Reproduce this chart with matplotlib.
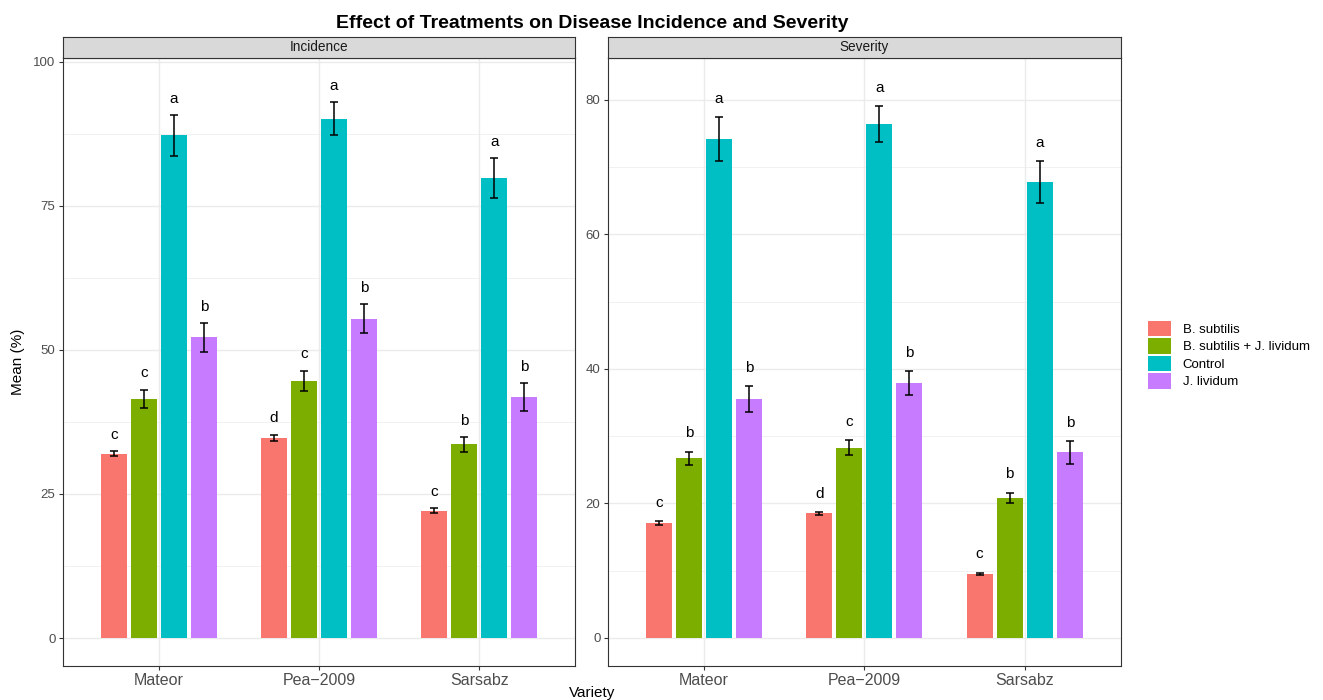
import matplotlib
matplotlib.use("Agg")
import matplotlib.pyplot as plt
import matplotlib.patches as mpatches
from matplotlib.ticker import MultipleLocator
import numpy as np

plt.rcParams["font.family"] = ["Liberation Sans", "DejaVu Sans"]

# ---- data -------------------------------------------------------------
varieties = ["Mateor", "Pea\u22122009", "Sarsabz"]
treatments = ["B. subtilis", "B. subtilis + J. lividum", "Control", "J. lividum"]
colors = ["#F8766D", "#7CAE00", "#00BFC4", "#C77CFF"]

incidence_mean = {
    "B. subtilis": [32.0, 34.7, 22.1],
    "B. subtilis + J. lividum": [41.5, 44.6, 33.6],
    "Control": [87.2, 90.1, 79.8],
    "J. lividum": [52.2, 55.4, 41.8],
}
incidence_se = {
    "B. subtilis": [0.5, 0.6, 0.4],
    "B. subtilis + J. lividum": [1.6, 1.8, 1.3],
    "Control": [3.5, 2.8, 3.5],
    "J. lividum": [2.5, 2.5, 2.5],
}
incidence_letters = {
    "B. subtilis": ["c", "d", "c"],
    "B. subtilis + J. lividum": ["c", "c", "b"],
    "Control": ["a", "a", "a"],
    "J. lividum": ["b", "b", "b"],
}

severity_mean = {
    "B. subtilis": [17.1, 18.5, 9.5],
    "B. subtilis + J. lividum": [26.7, 28.3, 20.8],
    "Control": [74.2, 76.4, 67.8],
    "J. lividum": [35.5, 37.9, 27.6],
}
severity_se = {
    "B. subtilis": [0.3, 0.25, 0.2],
    "B. subtilis + J. lividum": [1.0, 1.1, 0.8],
    "Control": [3.3, 2.7, 3.1],
    "J. lividum": [1.9, 1.8, 1.7],
}
severity_letters = {
    "B. subtilis": ["c", "d", "c"],
    "B. subtilis + J. lividum": ["b", "c", "b"],
    "Control": ["a", "a", "a"],
    "J. lividum": ["b", "b", "b"],
}

# ---- figure -----------------------------------------------------------
W, H = 1323, 700
fig = plt.figure(figsize=(W / 100, H / 100), dpi=100)

GRID = "#EBEBEB"
DARK = "#333333"
TICKTXT = "#4D4D4D"


def frac_box(x0, y0, x1, y1):
    """pixel box (top-left origin) -> figure-fraction rect"""
    return [x0 / W, 1 - y1 / H, (x1 - x0) / W, (y1 - y0) / H]


panel_top, panel_bot = 57.5, 665.7
strip_top = 37.3
panels = [
    ("Incidence", 62.7, 575.3, incidence_mean, incidence_se, incidence_letters,
     (-4.8, 100.7), 25, 12.5),
    ("Severity", 607.7, 1121.0, severity_mean, severity_se, severity_letters,
     (-4.15, 86.3), 20, 10),
]

dodge = 0.1875
bar_w = 0.1625
x = np.arange(1, len(varieties) + 1)

for name, x0, x1, means, ses, letters, ylim, major, minor in panels:
    ax = fig.add_axes(frac_box(x0, panel_top, x1, panel_bot))
    ax.set_xlim(0.4, 3.6)
    ax.set_ylim(*ylim)
    ax.yaxis.set_major_locator(MultipleLocator(major))
    ax.yaxis.set_minor_locator(MultipleLocator(minor))
    ax.set_xticks(x)
    ax.set_xticklabels(varieties)
    ax.set_axisbelow(True)
    ax.grid(True, which="major", color=GRID, linewidth=1.0)
    ax.grid(True, which="minor", axis="y", color=GRID, linewidth=0.5)
    ax.tick_params(which="major", length=2.9, width=0.8, color=DARK,
                   labelsize=9.5, labelcolor=TICKTXT, pad=2.3)
    ax.tick_params(axis="x", which="major", labelsize=11.5, pad=2.0)
    ax.tick_params(which="minor", length=0)
    for sp in ax.spines.values():
        sp.set_color(DARK)
        sp.set_linewidth(0.8)

    for i, t in enumerate(treatments):
        xs = x + (i - 1.5) * dodge
        m = np.array(means[t])
        s = np.array(ses[t])
        ax.bar(xs, m, width=bar_w, color=colors[i], edgecolor="none", zorder=2)
        ax.errorbar(xs, m, yerr=s, fmt="none", ecolor="black",
                    elinewidth=1.1, capsize=3.0, capthick=1.1, zorder=3)
        for xi, top, lab in zip(xs, m + s, letters[t]):
            ax.text(xi, top + 2.1, lab, ha="center", va="baseline",
                    fontsize=11, color="black", zorder=4)

    # facet strip
    sax = fig.add_axes(frac_box(x0, strip_top, x1, panel_top))
    sax.set_facecolor("#D9D9D9")
    sax.set_xticks([])
    sax.set_yticks([])
    for sp in sax.spines.values():
        sp.set_color(DARK)
        sp.set_linewidth(0.8)
    sax.text(0.5, 0.5, name, ha="center", va="center", fontsize=9.8,
             color="#1A1A1A", transform=sax.transAxes)

# titles
fig.text(592 / W, 1 - 27.5 / H, "Effect of Treatments on Disease Incidence and Severity",
         ha="center", va="baseline", fontsize=14, fontweight="bold")
fig.text(592 / W, 1 - 693 / H, "Variety", ha="center", va="center", fontsize=11)
fig.text(18 / W, 1 - 361.6 / H, "Mean (%)", ha="center", va="center",
         rotation=90, fontsize=11)

# legend
handles = [mpatches.Patch(facecolor=c, edgecolor="none", label=t)
           for c, t in zip(colors, treatments)]
fig.legend(handles=handles, loc="upper left",
           bbox_to_anchor=(1148 / W, 1 - 321 / H), frameon=False,
           fontsize=9.5, handlelength=1.74, handleheight=1.4,
           labelspacing=0.17, handletextpad=0.9, borderpad=0, borderaxespad=0)

fig.savefig("out.png", dpi=100)
